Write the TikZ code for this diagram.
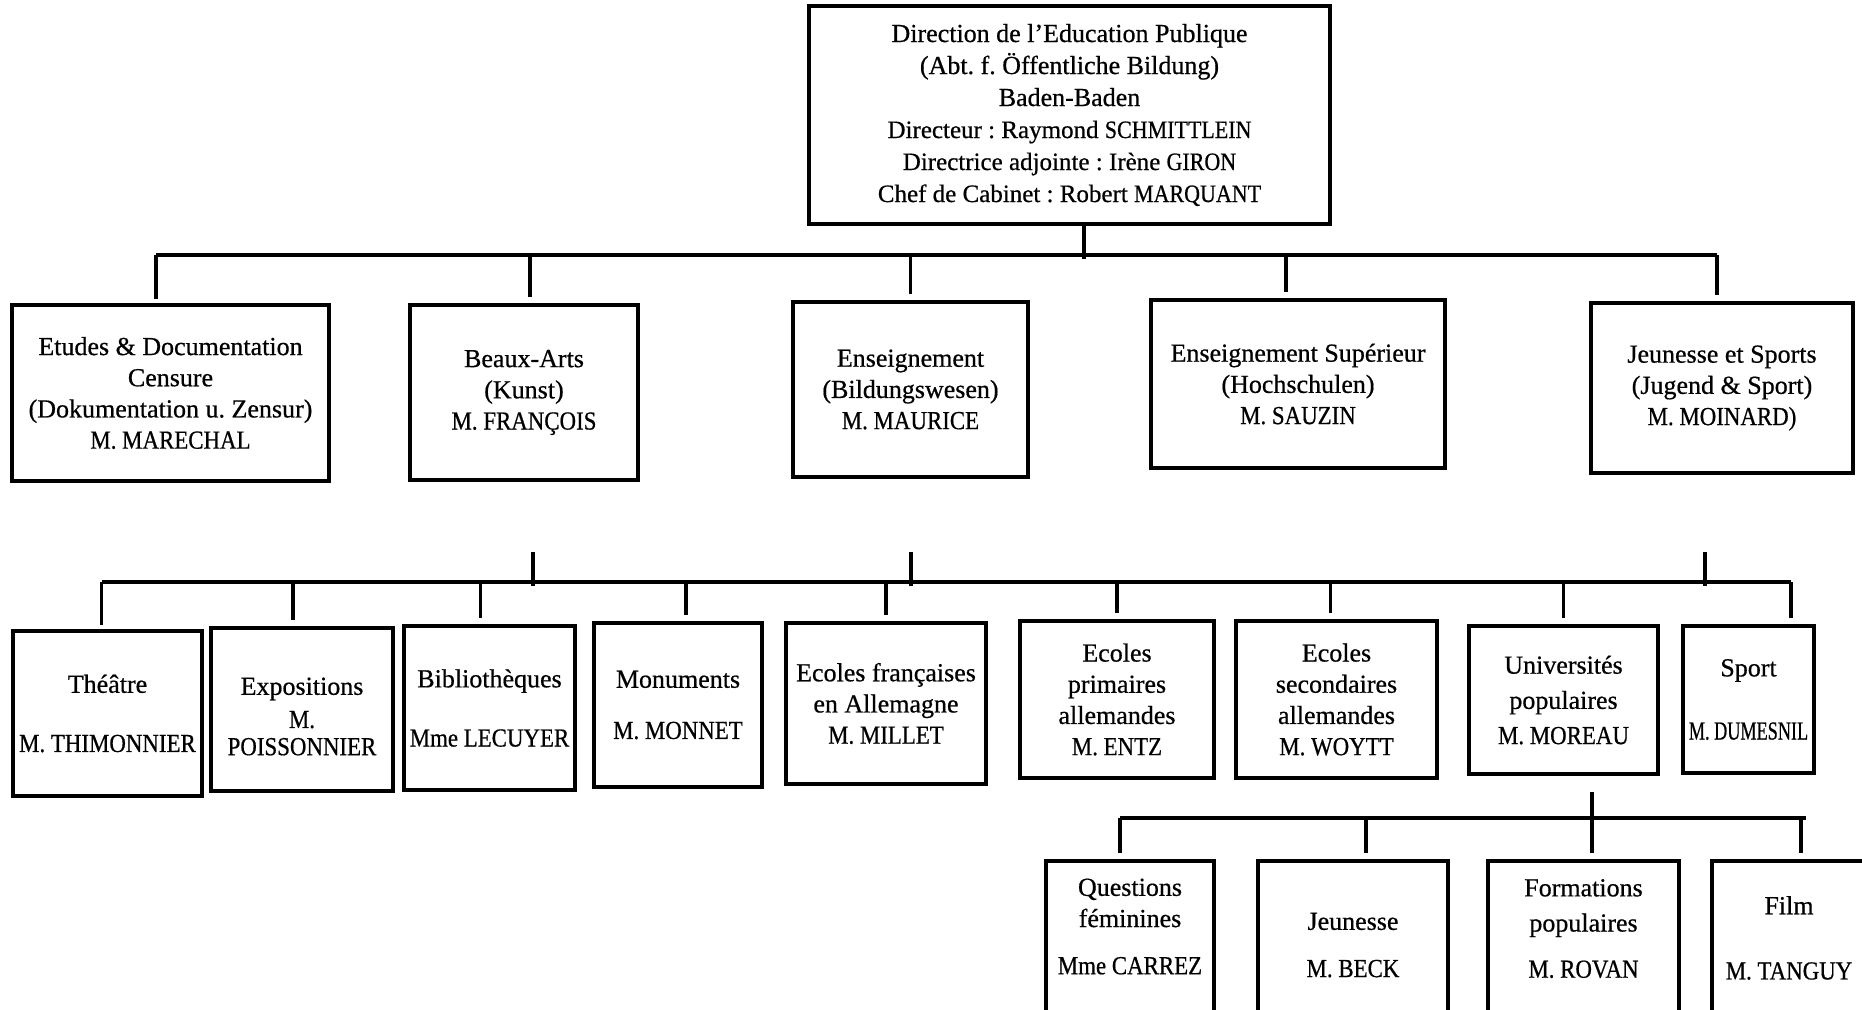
\documentclass[tikz,border=0pt]{standalone}
\usepackage{fontspec}
\setmainfont{Liberation Serif}[FakeBold=0.6]
\newfontfamily\namefont{Liberation Serif}[FakeStretch=0.88, FakeBold=0.6]
\newfontfamily\tightfont{Liberation Serif}[FakeStretch=0.70, FakeBold=0.6]
\newcommand{\nm}[1]{{\namefont #1}}
\frenchspacing
\usepackage{tikz}
\usetikzlibrary{positioning}
\tikzset{
  orgbox/.style={draw, line width=2pt, align=center, inner sep=2pt, font=\fontsize{13}{15.6}\selectfont},
  link/.style={line width=1.8pt},
}
\begin{document}
\begin{tikzpicture}[x=0.5pt, y=-0.5pt]
\useasboundingbox (0,0) rectangle (1862,1009);
% direction
\node[orgbox, minimum width=260.5pt, minimum height=109pt, font=\fontsize{13}{16}\selectfont] (dir) at (1069.5,115) {Direction de l'Education Publique\\(Abt. f. Öffentliche Bildung)\\Baden-Baden\\{\fontsize{12.5}{16}\selectfont Directeur : Raymond \nm{SCHMITTLEIN}}\\{\fontsize{12.5}{16}\selectfont Directrice adjointe : Irène \nm{GIRON}}\\{\fontsize{12.5}{16}\selectfont Chef de Cabinet : Robert \nm{MARQUANT}}};
% services
\node[orgbox, minimum width=158.5pt, minimum height=88pt] (etu) at (170.5,393) {Etudes \& Documentation\\Censure\\(Dokumentation u. Zensur)\\\nm{M. MARECHAL}};
\node[orgbox, minimum width=114pt, minimum height=87.5pt] (arts) at (524,392.5) {Beaux-Arts\\(Kunst)\\\nm{M. FRANÇOIS}};
\node[orgbox, minimum width=117.5pt, minimum height=87.5pt] (ens) at (910.5,389.5) {Enseignement\\(Bildungswesen)\\\nm{M. MAURICE}};
\node[orgbox, minimum width=147pt, minimum height=84pt] (sup) at (1298,384) {Enseignement Supérieur\\(Hochschulen)\\\nm{M. SAUZIN}};
\node[orgbox, minimum width=131pt, minimum height=85pt] (jeu) at (1722,388) {Jeunesse et Sports\\(Jugend \& Sport)\\\nm{M. MOINARD)}};
% sections
\node[orgbox, minimum width=94.5pt, minimum height=82.5pt] (the) at (107.5,713.5) {Théâtre\\[14pt]\nm{M. THIMONNIER}};
\node[orgbox, minimum width=91pt, minimum height=81.5pt] (expo) at (302,709.5) {\mbox{}\\[0pt]Expositions\\[1pt]\nm{M.}\\[-2pt]\nm{POISSONNIER}};
\node[orgbox, minimum width=85.5pt, minimum height=82pt] (bib) at (489.5,708) {Bibliothèques\\[14pt]\nm{Mme LECUYER}};
\node[orgbox, minimum width=84pt, minimum height=82pt] (mon) at (678,705) {Monuments\\[10pt]\nm{M. MONNET}};
\node[orgbox, minimum width=100pt, minimum height=80.5pt] (ecf) at (886,703.5) {Ecoles françaises\\en Allemagne\\\nm{M. MILLET}};
\node[orgbox, minimum width=97pt, minimum height=78.5pt] (ecp) at (1117,699.5) {Ecoles\\primaires\\allemandes\\\nm{M. ENTZ}};
\node[orgbox, minimum width=100.5pt, minimum height=78.5pt] (ecs) at (1336.5,699.5) {Ecoles\\secondaires\\allemandes\\\nm{M. WOYTT}};
\node[orgbox, minimum width=94.5pt, minimum height=74pt] (univ) at (1563.5,700) {Universités\\[2pt]populaires\\[2pt]\nm{M. MOREAU}};
\node[orgbox, minimum width=65.5pt, minimum height=73.5pt] (spo) at (1748.5,699.5) {Sport\\[16pt]{\tightfont M. DUMESNIL}};
% bureaux
\node[orgbox, minimum width=84pt, minimum height=77pt] (fem) at (1130,938) {Questions\\féminines\\[8pt]\nm{Mme CARREZ}\\[-4pt]\mbox{}};
\node[orgbox, minimum width=95pt, minimum height=77pt] (jns) at (1353,938) {\mbox{}\\[0pt]Jeunesse\\[8pt]\nm{M. BECK}};
\node[orgbox, minimum width=95.5pt, minimum height=77pt] (form) at (1583.5,938) {Formations\\[2pt]populaires\\[7.5pt]\nm{M. ROVAN}\\[-6pt]\mbox{}};
\node[orgbox, minimum width=77pt, minimum height=77pt] (film) at (1789,938) {Film\\[17pt]\nm{M. TANGUY}};
% level 1 links
\coordinate (bar1) at (1084,255);
\coordinate (d1) at (156,255);
\coordinate (d5) at (1717,255);
\draw[link] (dir.south -| bar1) -- ([yshift=-2pt]bar1);
\draw[link] (d1) -- (d5);
\draw[link, shorten >=2pt] (d1) -- (d1 |- etu.north);
\draw[link, shorten >=3pt] ([xshift=3pt]arts.north |- bar1) -- ([xshift=3pt]arts.north);
\draw[link, shorten >=3pt] (ens.north |- bar1) -- (ens.north);
\draw[link, shorten >=3pt] ([xshift=-6pt]sup.north |- bar1) -- ([xshift=-6pt]sup.north);
\draw[link, shorten >=3pt] (d5) -- (d5 |- jeu.north);
% level 2 links
\coordinate (bar2) at (0,582);
\coordinate (k1) at (533,552);
\coordinate (k2) at (911,552);
\coordinate (k3) at (1705,552);
\coordinate (g9) at (1791,582);
\draw[link] (k1) -- ([yshift=-2pt]k1 |- bar2);
\draw[link] (k2) -- ([yshift=-2pt]k2 |- bar2);
\draw[link] (k3) -- ([yshift=-2pt]k3 |- bar2);
\draw[link] ([xshift=-3pt]the.north |- bar2) -- (g9);
\draw[link, shorten >=2pt] ([xshift=-3pt]the.north |- bar2) -- ([xshift=-3pt]the.north);
\draw[link, shorten >=3pt] ([xshift=-4.5pt]expo.north |- bar2) -- ([xshift=-4.5pt]expo.north);
\draw[link, shorten >=3pt] ([xshift=-4.5pt]bib.north |- bar2) -- ([xshift=-4.5pt]bib.north);
\draw[link, shorten >=3pt] ([xshift=4pt]mon.north |- bar2) -- ([xshift=4pt]mon.north);
\draw[link, shorten >=3pt] (ecf.north |- bar2) -- (ecf.north);
\draw[link, shorten >=3pt] (ecp.north |- bar2) -- (ecp.north);
\draw[link, shorten >=3pt] ([xshift=-3pt]ecs.north |- bar2) -- ([xshift=-3pt]ecs.north);
\draw[link, shorten >=3pt] (univ.north |- bar2) -- (univ.north);
\draw[link, shorten >=3pt] (g9) -- (g9 |- spo.north);
% level 3 links
\coordinate (bar3) at (0,818);
\coordinate (u0) at (1592,792);
\coordinate (h1) at (1120,818);
\coordinate (h4) at (1801,818);
\draw[link] (h1) -- ([xshift=2.5pt]h4);
\draw[link, shorten >=3pt] (u0) -- (u0 |- form.north);
\draw[link, shorten >=3pt] (h1) -- (h1 |- fem.north);
\draw[link, shorten >=3pt] ([xshift=6.5pt]jns.north |- bar3) -- ([xshift=6.5pt]jns.north);
\draw[link, shorten >=3pt] (h4) -- (h4 |- film.north);
\end{tikzpicture}
\end{document}
